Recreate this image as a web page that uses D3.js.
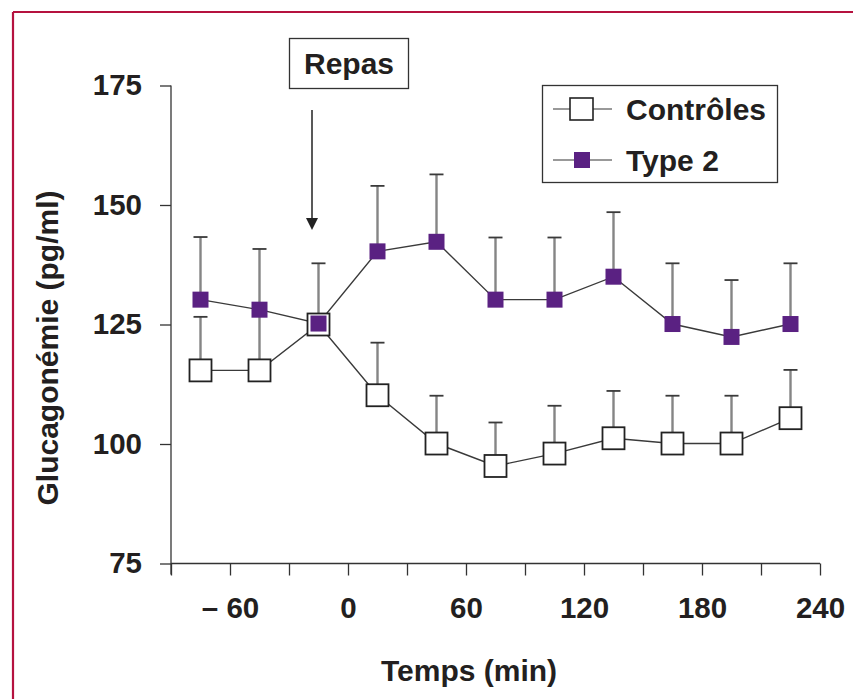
<!DOCTYPE html>
<html>
<head>
<meta charset="utf-8">
<script src="https://cdn.jsdelivr.net/npm/d3@7"></script>
<style>
  html, body { margin: 0; padding: 0; background: #fff; }
  svg { display: block; }
  text { font-family: "Liberation Sans", Arial, sans-serif; font-weight: bold; fill: #231f20; }
</style>
</head>
<body>
<svg id="chart" width="853" height="699"></svg>
<script>
// Sampling times (min) relative to the meal
const times = [-75, -45, -15, 15, 45, 75, 105, 135, 165, 195, 225];

// Mean glucagon (pg/ml) and upper error limits (mean + SEM)
const controlMeans = [115.4, 115.4, 125, 110.2, 100.1, 95.4, 98.0, 101.2, 100.1, 100.1, 105.4];
const controlUpper = [126.6, 128, null, 121.2, 110.1, 104.5, 108.0, 111.1, 110.1, 110.1, 115.5];
const type2Means   = [130.2, 128.1, 125.2, 140.3, 142.3, 130.2, 130.2, 135.0, 125.1, 122.4, 125.1];
const type2Upper   = [143.3, 140.8, 137.8, 154.0, 156.4, 143.2, 143.2, 148.5, 137.8, 134.3, 137.8];

const yTicks = [75, 100, 125, 150, 175];
const xTicks = [-60, 0, 60, 120, 180, 240];
const xMinorTicks = [-90, -60, -30, 0, 30, 60, 90, 120, 150, 180, 210, 240];

const seriesNames = ["Contrôles", "Type 2"];
const purple = "#5a2182";

const svg = d3.select("#chart");

// Page frame
svg.append("line").attr("x1", 13).attr("x2", 853).attr("y1", 12).attr("y2", 12)
  .attr("stroke", "#b5123f").attr("stroke-width", 2.2);
svg.append("line").attr("x1", 13).attr("x2", 13).attr("y1", 12).attr("y2", 699)
  .attr("stroke", "#b5123f").attr("stroke-width", 2.2);

const x = d3.scaleLinear().domain([-90, 240]).range([171, 820]);
const y = d3.scaleLinear().domain([75, 175]).range([563.5, 85.5]);

// Y axis
const yAxis = svg.append("g").attr("transform", `translate(${x(-90)},0)`)
  .call(d3.axisLeft(y).tickValues(yTicks).tickSize(11).tickPadding(18));
yAxis.select(".domain").attr("stroke", "#333").attr("stroke-width", 1.3)
  .attr("d", `M0,${y(175)}V${y(75) + 11}`);
yAxis.selectAll(".tick line").attr("stroke", "#333").attr("stroke-width", 1.3);
yAxis.selectAll(".tick text").style("font-size", "29.5px").attr("fill", "#231f20");

// X axis
const xAxis = svg.append("g").attr("transform", `translate(0,${y(75)})`)
  .call(d3.axisBottom(x).tickValues(xMinorTicks).tickSize(12).tickPadding(22)
    .tickFormat(d => xTicks.includes(d) ? (d < 0 ? "\u2013 " + Math.abs(d) : d) : ""));
xAxis.select(".domain").attr("stroke", "#333").attr("stroke-width", 1.3)
  .attr("d", `M${x(-90)},0H${x(240)}`);
xAxis.selectAll(".tick line").attr("stroke", "#333").attr("stroke-width", 1.3);
xAxis.selectAll(".tick text").style("font-size", "29.5px").attr("fill", "#231f20");

// Axis titles
svg.append("text").attr("x", 469).attr("y", 681).attr("text-anchor", "middle")
  .style("font-size", "30px").text("Temps (min)");
svg.append("text").attr("transform", `translate(58,348) rotate(-90)`)
  .attr("text-anchor", "middle").style("font-size", "30px").text("Glucagonémie (pg/ml)");

// Error bars (upper whiskers)
function whiskers(means, upper) {
  const g = svg.append("g");
  times.forEach((t, i) => {
    if (upper[i] == null) return;
    g.append("line").attr("x1", x(t)).attr("x2", x(t))
      .attr("y1", y(means[i])).attr("y2", y(upper[i]))
      .attr("stroke", "#858585").attr("stroke-width", 2.4);
    g.append("line").attr("x1", x(t) - 7).attr("x2", x(t) + 7)
      .attr("y1", y(upper[i])).attr("y2", y(upper[i]))
      .attr("stroke", "#3a3a3a").attr("stroke-width", 1.8);
  });
}
whiskers(controlMeans, controlUpper);
whiskers(type2Means, type2Upper);

const line = d3.line().x((d, i) => x(times[i])).y(d => y(d));
svg.append("path").datum(controlMeans).attr("d", line)
  .attr("fill", "none").attr("stroke", "#3a3a3a").attr("stroke-width", 1.4);
svg.append("path").datum(type2Means).attr("d", line)
  .attr("fill", "none").attr("stroke", "#3a3a3a").attr("stroke-width", 1.4);

// Markers
svg.append("g").selectAll("rect").data(controlMeans).join("rect")
  .attr("x", (d, i) => x(times[i]) - 11).attr("y", d => y(d) - 11)
  .attr("width", 22).attr("height", 22)
  .attr("fill", "#fff").attr("stroke", "#222").attr("stroke-width", 1.8);
svg.append("g").selectAll("rect").data(type2Means).join("rect")
  .attr("x", (d, i) => x(times[i]) - 8).attr("y", d => y(d) - 8)
  .attr("width", 16).attr("height", 16).attr("fill", purple);

// Meal annotation
svg.append("rect").attr("x", 289.5).attr("y", 38.5).attr("width", 119).attr("height", 50)
  .attr("fill", "#fff").attr("stroke", "#333").attr("stroke-width", 1.3);
svg.append("text").attr("x", 349).attr("y", 74).attr("text-anchor", "middle")
  .style("font-size", "30px").text("Repas");
svg.append("line").attr("x1", 312).attr("x2", 312).attr("y1", 110).attr("y2", 220)
  .attr("stroke", "#222").attr("stroke-width", 1.5);
svg.append("path").attr("d", "M306,218L318,218L312,230Z").attr("fill", "#222");

// Legend
const lg = svg.append("g");
lg.append("rect").attr("x", 542.5).attr("y", 85.5).attr("width", 235).attr("height", 97)
  .attr("fill", "#fff").attr("stroke", "#333").attr("stroke-width", 1.3);
[0, 1].forEach(k => {
  const ly = k === 0 ? 109 : 160;
  lg.append("line").attr("x1", 553).attr("x2", 612).attr("y1", ly).attr("y2", ly)
    .attr("stroke", "#777").attr("stroke-width", 1.4);
  if (k === 0) {
    lg.append("rect").attr("x", 570).attr("y", ly - 11).attr("width", 23).attr("height", 22)
      .attr("fill", "#fff").attr("stroke", "#222").attr("stroke-width", 1.6);
  } else {
    lg.append("rect").attr("x", 574).attr("y", ly - 8).attr("width", 16).attr("height", 16)
      .attr("fill", purple);
  }
  lg.append("text").attr("x", 626).attr("y", ly + 11).style("font-size", "30px").text(seriesNames[k]);
});
</script>
</body>
</html>
